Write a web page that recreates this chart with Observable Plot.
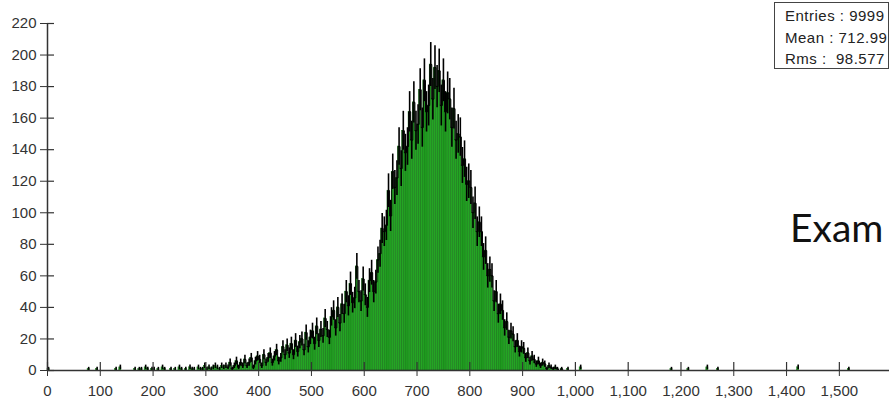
<!DOCTYPE html>
<html>
<head>
<meta charset="utf-8">
<script src="https://cdn.jsdelivr.net/npm/d3@7"></script>
<script src="https://cdn.jsdelivr.net/npm/@observablehq/plot@0.6"></script>
<style>
  body { margin: 0; background: #fff; }
  #wrap { position: relative; width: 889px; height: 400px; overflow: hidden; }
  #stats {
    position: absolute; left: 774px; top: 2px; width: 115px; height: 67px;
    box-sizing: border-box; border: 1px solid #444; background: #fff;
    padding: 2px 0 0 10px;
    font: 15px "Liberation Sans", Arial, sans-serif; line-height: 21.7px; color: #222;
    letter-spacing: 0.5px; white-space: pre;
  }
  #note {
    position: absolute; left: 790px; top: 208px;
    font: 39px Lato, "Open Sans", sans-serif; line-height: 39px; color: #111; white-space: nowrap;
  }
</style>
</head>
<body>
<div id="wrap">
  <div id="chart"></div>
  <div id="stats"><div>Entries : 9999</div><div>Mean : 712.99</div><div>Rms :  98.577</div></div>
  <div id="note">Exam</div>
</div>
<script>
// Histogram of 9999 entries, bins 4 units wide.
const binWidth = 4;

// Sparse low tail: bin lower edges and counts
const tailLowStarts = [0, 76, 92, 128, 136, 164, 172, 176, 184, 188, 196, 200, 208, 216, 220, 232, 240, 248, 252, 260, 268, 272, 276, 284, 288, 292, 296, 300, 304, 308, 312, 316, 320, 324, 328, 332, 336];
const tailLowCounts = [1, 1, 1, 1, 2, 1, 1, 1, 2, 1, 1, 1, 1, 2, 1, 1, 1, 2, 1, 1, 2, 1, 1, 2, 1, 1, 3, 1, 2, 1, 2, 3, 2, 1, 3, 2, 3];

// Main body: consecutive bins starting at coreStart
const coreStart = 340;
const coreCounts = [
  2, 5, 1, 3, 6,        2, 5, 3, 7, 3,        5, 8, 2, 6, 9,        7, 3, 10, 5, 8,
  11, 5, 9, 13, 6,      8, 15, 10, 16, 11,    17, 10, 19, 12, 18,   20, 13, 24, 15, 21,
  25, 17, 28, 19, 26,   22, 33, 26, 21, 34,   38, 27, 40, 30, 42,   36, 50, 41, 55, 43,
  46, 66, 50, 44, 58,   48, 40, 57, 62, 50,   56, 70, 74, 90, 88,   92, 114, 98, 126, 116,
  122, 142, 128, 152, 138,  142, 164, 146, 170, 152,  156, 178, 154, 184, 164,  168, 194, 172, 192, 180,
  190, 168, 184, 164, 176,  172, 154, 166, 146, 150,  148, 130, 134, 118, 120,  116, 100, 106, 88, 94,
  88, 72, 76, 60, 64,   60, 44, 50, 36, 42,   38, 27, 31, 21, 25,   23, 15, 19, 12, 15,
  14, 8, 11, 6, 9,      7, 4, 6, 3, 5,        4, 1, 3, 2, 1,        2, 1, 0, 1, 0
];

// Sparse high tail
const tailHighStarts = [984, 1008, 1180, 1212, 1248, 1268, 1420, 1516];
const tailHighCounts = [1, 2, 1, 1, 2, 1, 2, 1];

const xTicks = [0, 100, 200, 300, 400, 500, 600, 700, 800, 900, 1000, 1100, 1200, 1300, 1400, 1500];
const yTicks = [0, 20, 40, 60, 80, 100, 120, 140, 160, 180, 200, 220];

const core = coreCounts.map((n, i) => ({x0: coreStart + i * binWidth, n}));

const bins = [
  ...tailLowStarts.map((x0, i) => ({x0, n: tailLowCounts[i]})),
  ...core,
  ...tailHighStarts.map((x0, i) => ({x0, n: tailHighCounts[i]}))
].filter(d => d.n > 0).map(d => ({
  ...d,
  x1: d.x0 + binWidth,
  xm: d.x0 + binWidth / 2,
  lo: d.n - Math.sqrt(d.n),
  hi: d.n + Math.sqrt(d.n)
}));

const chart = Plot.plot({
  width: 889,
  height: 400,
  marginLeft: 47,
  marginRight: 0,
  marginTop: 23,
  marginBottom: 30,
  x: {domain: [0, 1595]},
  y: {domain: [0, 220]},
  style: {
    fontFamily: '"Liberation Sans", Arial, sans-serif',
    fontSize: "15px",
    color: "#333",
    background: "#fff"
  },
  marks: [
    // bars
    Plot.rectY(bins, {x1: "x0", x2: "x1", y: "n", fill: "#24a524", stroke: "#147214", strokeWidth: 0.5}),
    // stepped outline over the bar tops of the main body
    Plot.lineY(core, {x: "x0", y: "n", curve: "step-after", stroke: "#000", strokeWidth: 1}),
    // statistical error bars (±√n)
    Plot.ruleX(bins, {x: "xm", y1: "lo", y2: "hi", stroke: "#000", strokeWidth: 1.6}),
    // axes
    Plot.ruleX([0], {stroke: "#333", strokeWidth: 1.5}),
    Plot.ruleY([0], {stroke: "#333", strokeWidth: 1.5}),
    Plot.axisY({ticks: yTicks, tickSize: 7, tickPadding: 4, label: null}),
    Plot.tickY(yTicks, {y: d => d, insetRight: 835, stroke: "#333", strokeWidth: 1.2}),
    Plot.axisX({ticks: xTicks, tickSize: 6, tickPadding: 9, tickFormat: d3.format(","), label: null}),
    Plot.tickX(xTicks, {x: d => d, insetTop: 339, stroke: "#333", strokeWidth: 1.2})
  ]
});

document.getElementById("chart").appendChild(chart);
</script>
</body>
</html>
